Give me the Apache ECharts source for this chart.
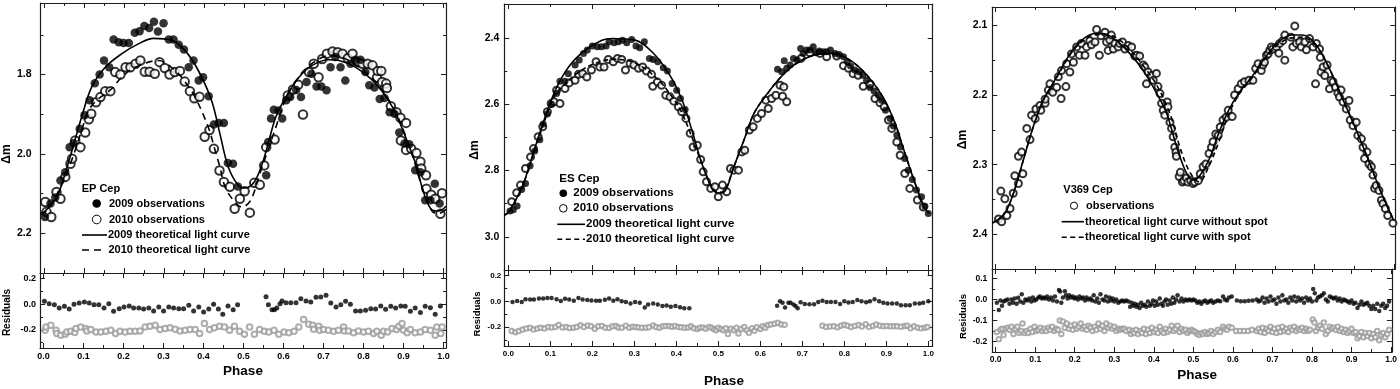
<!DOCTYPE html>
<html><head><meta charset="utf-8">
<script src="https://cdn.jsdelivr.net/npm/echarts@6/dist/echarts.min.js"></script>
<style>html,body{margin:0;padding:0;background:#fff}#c{width:1400px;height:389px}</style>
</head><body><div id="c"></div>
<script>
// ---------------- DATA (phase, value) ----------------
// EP Cep
const epObs2009 = [[0.002,2.159],[0.016,2.125],[0.028,2.110],[0.041,2.067],[0.053,2.046],[0.064,1.983],[0.074,1.973],[0.089,1.937],[0.101,1.903],[0.114,1.865],[0.127,1.822],[0.139,1.800],[0.150,1.765],[0.163,1.782],[0.174,1.712],[0.187,1.719],[0.199,1.721],[0.212,1.721],[0.227,1.695],[0.239,1.691],[0.251,1.678],[0.263,1.683],[0.275,1.667],[0.285,1.692],[0.299,1.671],[0.312,1.712],[0.324,1.712],[0.337,1.725],[0.350,1.737],[0.362,1.782],[0.374,1.765],[0.387,1.815],[0.398,1.807],[0.412,1.855],[0.425,1.926],[0.437,1.922],[0.450,1.922],[0.460,2.023],[0.473,2.025],[0.485,2.082],[0.556,2.054],[0.561,1.970],[0.568,1.911],[0.575,1.889],[0.587,1.891],[0.596,1.911],[0.606,1.865],[0.616,1.857],[0.631,1.839],[0.643,1.857],[0.657,1.819],[0.669,1.798],[0.682,1.830],[0.694,1.830],[0.707,1.840],[0.717,1.782],[0.729,1.756],[0.742,1.782],[0.754,1.815],[0.767,1.773],[0.779,1.763],[0.792,1.763],[0.804,1.794],[0.814,1.827],[0.827,1.833],[0.840,1.862],[0.852,1.859],[0.865,1.895],[0.877,1.899],[0.889,1.946],[0.902,1.974],[0.914,1.976],[0.929,2.041],[0.942,2.046],[0.954,2.117],[0.967,2.117],[0.978,2.075],[0.990,2.125]];
const epObs2010 = [[0.003,2.121],[0.006,2.146],[0.018,2.159],[0.031,2.096],[0.041,2.113],[0.053,2.058],[0.066,2.025],[0.070,2.012],[0.078,1.966],[0.091,1.983],[0.103,1.946],[0.112,1.913],[0.118,1.899],[0.130,1.870],[0.141,1.857],[0.153,1.842],[0.166,1.842],[0.178,1.794],[0.191,1.800],[0.204,1.782],[0.216,1.782],[0.229,1.773],[0.241,1.765],[0.252,1.793],[0.264,1.793],[0.277,1.798],[0.289,1.769],[0.302,1.784],[0.314,1.800],[0.327,1.794],[0.340,1.791],[0.352,1.818],[0.365,1.842],[0.376,1.860],[0.389,1.856],[0.402,1.957],[0.414,1.940],[0.425,1.987],[0.439,2.042],[0.450,2.071],[0.465,2.083],[0.477,2.138],[0.490,2.113],[0.502,2.094],[0.515,2.148],[0.526,2.073],[0.540,2.078],[0.551,2.029],[0.556,1.983],[0.577,1.964],[0.610,1.853],[0.623,1.838],[0.636,1.826],[0.648,1.901],[0.663,1.794],[0.675,1.773],[0.687,1.807],[0.696,1.761],[0.708,1.748],[0.722,1.742],[0.735,1.744],[0.747,1.748],[0.760,1.759],[0.772,1.748],[0.785,1.769],[0.797,1.773],[0.810,1.773],[0.822,1.777],[0.833,1.808],[0.835,1.791],[0.844,1.791],[0.846,1.819],[0.856,1.823],[0.858,1.834],[0.868,1.880],[0.882,1.895],[0.892,1.909],[0.893,1.966],[0.906,1.922],[0.906,1.990],[0.919,1.987],[0.932,1.998],[0.942,2.020],[0.944,2.037],[0.956,2.054],[0.957,2.088],[0.969,2.103],[0.979,2.113],[0.992,2.151],[0.996,2.099]];
const epCurve2009 = [[-0.009,2.148],[0.0,2.146],[0.02,2.125],[0.036,2.100],[0.065,2.008],[0.094,1.907],[0.119,1.832],[0.153,1.782],[0.194,1.748],[0.236,1.723],[0.274,1.709],[0.319,1.714],[0.353,1.740],[0.386,1.790],[0.419,1.865],[0.440,1.949],[0.461,2.033],[0.486,2.079],[0.503,2.086],[0.526,2.071],[0.546,2.025],[0.563,1.966],[0.580,1.907],[0.605,1.857],[0.638,1.807],[0.671,1.777],[0.713,1.763],[0.738,1.765],[0.780,1.782],[0.830,1.823],[0.872,1.882],[0.905,1.958],[0.930,2.025],[0.951,2.100],[0.972,2.142],[0.988,2.144],[1.006,2.132]];
const epCurve2010 = [[-0.009,2.152],[0.0,2.150],[0.019,2.125],[0.045,2.075],[0.069,2.016],[0.094,1.941],[0.111,1.891],[0.132,1.865],[0.169,1.836],[0.194,1.807],[0.228,1.782],[0.286,1.765],[0.328,1.790],[0.353,1.819],[0.378,1.857],[0.411,1.933],[0.428,1.991],[0.440,2.033],[0.453,2.083],[0.474,2.117],[0.495,2.134],[0.517,2.117],[0.540,2.050],[0.563,1.983],[0.580,1.933],[0.605,1.862],[0.638,1.805],[0.671,1.772],[0.713,1.753],[0.738,1.755],[0.780,1.775],[0.830,1.818],[0.872,1.880],[0.905,1.955],[0.930,2.030],[0.951,2.100],[0.972,2.145],[0.988,2.150],[1.006,2.140]];
const epRes2009 = [[0.002,0.023],[0.014,0.005],[0.027,-0.003],[0.039,-0.029],[0.052,-0.016],[0.064,-0.036],[0.076,0.0],[0.089,0.010],[0.102,0.018],[0.114,0.010],[0.126,-0.003],[0.138,-0.003],[0.151,-0.029],[0.163,0.005],[0.175,-0.055],[0.189,-0.034],[0.201,-0.021],[0.214,-0.013],[0.225,-0.029],[0.238,-0.029],[0.250,-0.036],[0.263,-0.029],[0.275,-0.052],[0.288,-0.021],[0.300,-0.052],[0.313,-0.021],[0.325,-0.029],[0.338,-0.034],[0.350,-0.034],[0.363,-0.008],[0.375,-0.052],[0.388,-0.021],[0.400,-0.060],[0.413,-0.036],[0.425,0.0],[0.437,-0.036],[0.448,-0.078],[0.461,-0.013],[0.474,-0.042],[0.485,-0.003],[0.556,0.060],[0.562,-0.003],[0.571,-0.042],[0.577,-0.042],[0.583,-0.029],[0.591,0.005],[0.596,0.026],[0.606,0.013],[0.618,0.013],[0.631,0.013],[0.643,0.044],[0.656,0.026],[0.668,0.018],[0.681,0.055],[0.693,0.057],[0.706,0.070],[0.718,0.010],[0.731,-0.021],[0.743,-0.003],[0.755,0.023],[0.767,0.0],[0.780,-0.052],[0.792,-0.052],[0.805,-0.047],[0.818,-0.034],[0.830,-0.036],[0.843,-0.013],[0.855,-0.039],[0.868,-0.016],[0.880,-0.029],[0.893,-0.013],[0.904,-0.016],[0.917,-0.055],[0.929,-0.029],[0.942,-0.065],[0.954,-0.016],[0.967,-0.026],[0.979,-0.078],[0.992,-0.013]];
const epRes2010 = [[0.004,-0.203],[0.006,-0.177],[0.018,-0.164],[0.031,-0.203],[0.033,-0.229],[0.043,-0.242],[0.054,-0.234],[0.058,-0.216],[0.068,-0.210],[0.078,-0.221],[0.081,-0.190],[0.093,-0.177],[0.105,-0.190],[0.108,-0.208],[0.118,-0.197],[0.131,-0.216],[0.143,-0.216],[0.156,-0.210],[0.168,-0.203],[0.180,-0.229],[0.191,-0.210],[0.204,-0.216],[0.216,-0.210],[0.229,-0.210],[0.241,-0.208],[0.254,-0.177],[0.266,-0.171],[0.279,-0.164],[0.291,-0.197],[0.304,-0.190],[0.316,-0.184],[0.329,-0.195],[0.341,-0.208],[0.354,-0.203],[0.366,-0.197],[0.379,-0.197],[0.390,-0.229],[0.402,-0.151],[0.415,-0.197],[0.427,-0.184],[0.440,-0.171],[0.452,-0.177],[0.465,-0.203],[0.477,-0.171],[0.490,-0.210],[0.502,-0.234],[0.515,-0.177],[0.527,-0.234],[0.540,-0.197],[0.552,-0.210],[0.563,-0.216],[0.576,-0.203],[0.588,-0.234],[0.601,-0.216],[0.613,-0.223],[0.626,-0.210],[0.638,-0.177],[0.650,-0.119],[0.663,-0.156],[0.673,-0.164],[0.675,-0.195],[0.688,-0.171],[0.690,-0.203],[0.700,-0.197],[0.712,-0.203],[0.725,-0.210],[0.737,-0.203],[0.750,-0.177],[0.752,-0.208],[0.762,-0.208],[0.775,-0.223],[0.787,-0.208],[0.800,-0.216],[0.812,-0.210],[0.825,-0.229],[0.833,-0.210],[0.844,-0.242],[0.850,-0.210],[0.860,-0.216],[0.871,-0.190],[0.882,-0.197],[0.888,-0.171],[0.896,-0.151],[0.900,-0.203],[0.909,-0.223],[0.917,-0.197],[0.929,-0.223],[0.942,-0.216],[0.954,-0.197],[0.967,-0.203],[0.979,-0.242],[0.983,-0.177],[0.993,-0.229],[0.996,-0.177]];
// ES Cep
const esObs2009 = [[0.004,2.922],[0.012,2.918],[0.021,2.907],[0.032,2.857],[0.041,2.839],[0.052,2.786],[0.063,2.741],[0.075,2.707],[0.083,2.660],[0.093,2.630],[0.103,2.600],[0.115,2.568],[0.123,2.531],[0.135,2.531],[0.143,2.508],[0.159,2.482],[0.169,2.467],[0.179,2.447],[0.188,2.437],[0.200,2.425],[0.212,2.427],[0.222,2.427],[0.233,2.425],[0.240,2.412],[0.252,2.415],[0.262,2.412],[0.272,2.407],[0.282,2.415],[0.294,2.405],[0.304,2.425],[0.313,2.430],[0.324,2.412],[0.336,2.462],[0.345,2.465],[0.356,2.472],[0.369,2.490],[0.379,2.500],[0.390,2.538],[0.401,2.558],[0.410,2.583],[0.421,2.616],[0.641,2.495],[0.651,2.502],[0.657,2.469],[0.663,2.492],[0.671,2.482],[0.679,2.462],[0.688,2.467],[0.696,2.432],[0.702,2.447],[0.710,2.437],[0.718,2.437],[0.726,2.427],[0.733,2.445],[0.740,2.440],[0.750,2.442],[0.758,2.442],[0.767,2.437],[0.778,2.447],[0.788,2.450],[0.798,2.457],[0.807,2.472],[0.815,2.485],[0.825,2.497],[0.835,2.502],[0.844,2.513],[0.853,2.528],[0.861,2.550],[0.871,2.560],[0.881,2.573],[0.889,2.588],[0.898,2.618],[0.909,2.643],[0.917,2.666],[0.925,2.693],[0.934,2.729],[0.944,2.764],[0.952,2.799],[0.962,2.827],[0.972,2.859],[0.984,2.879],[0.992,2.908],[1.000,2.930]];
const esObs2010 = [[0.008,2.894],[0.020,2.867],[0.029,2.844],[0.041,2.794],[0.053,2.759],[0.060,2.734],[0.071,2.698],[0.082,2.668],[0.093,2.623],[0.102,2.598],[0.109,2.593],[0.123,2.598],[0.115,2.558],[0.135,2.553],[0.145,2.536],[0.159,2.528],[0.167,2.510],[0.177,2.508],[0.187,2.518],[0.198,2.497],[0.209,2.472],[0.218,2.488],[0.228,2.488],[0.238,2.465],[0.250,2.472],[0.260,2.462],[0.270,2.465],[0.279,2.497],[0.290,2.477],[0.299,2.482],[0.310,2.492],[0.320,2.488],[0.329,2.500],[0.341,2.510],[0.344,2.546],[0.355,2.533],[0.365,2.543],[0.375,2.573],[0.385,2.578],[0.394,2.591],[0.405,2.608],[0.413,2.623],[0.423,2.643],[0.433,2.688],[0.440,2.729],[0.450,2.724],[0.458,2.767],[0.464,2.804],[0.472,2.834],[0.482,2.854],[0.492,2.849],[0.500,2.879],[0.510,2.844],[0.520,2.864],[0.529,2.794],[0.537,2.799],[0.548,2.799],[0.556,2.744],[0.563,2.739],[0.574,2.678],[0.583,2.668],[0.593,2.643],[0.603,2.628],[0.613,2.588],[0.619,2.613],[0.627,2.583],[0.637,2.573],[0.647,2.543],[0.653,2.576],[0.656,2.548],[0.663,2.593],[0.697,2.462],[0.718,2.445],[0.742,2.447],[0.758,2.457],[0.782,2.455],[0.798,2.484],[0.810,2.492],[0.821,2.508],[0.833,2.513],[0.845,2.546],[0.861,2.540],[0.873,2.583],[0.885,2.596],[0.895,2.608],[0.905,2.648],[0.913,2.673],[0.925,2.714],[0.933,2.754],[0.944,2.809],[0.956,2.854],[0.974,2.889],[0.988,2.910]];
const esCurve2009 = [[-0.0095,2.935],[0.001,2.925],[0.033,2.849],[0.064,2.729],[0.088,2.638],[0.112,2.558],[0.144,2.487],[0.183,2.437],[0.223,2.407],[0.247,2.402],[0.302,2.407],[0.342,2.442],[0.382,2.507],[0.414,2.588],[0.437,2.678],[0.461,2.779],[0.485,2.854],[0.500,2.868],[0.514,2.865],[0.537,2.789],[0.561,2.709],[0.585,2.628],[0.617,2.568],[0.649,2.518],[0.680,2.482],[0.728,2.452],[0.768,2.447],[0.807,2.462],[0.847,2.503],[0.887,2.568],[0.918,2.648],[0.942,2.739],[0.966,2.829],[0.990,2.910],[1.002,2.929]];
const esCurve2010 = [[-0.0095,2.935],[0.001,2.925],[0.033,2.850],[0.064,2.735],[0.088,2.645],[0.110,2.575],[0.128,2.548],[0.168,2.503],[0.207,2.477],[0.247,2.465],[0.279,2.467],[0.318,2.487],[0.358,2.528],[0.390,2.578],[0.414,2.628],[0.437,2.699],[0.461,2.779],[0.485,2.850],[0.500,2.866],[0.514,2.862],[0.537,2.789],[0.561,2.709],[0.585,2.628],[0.617,2.568],[0.649,2.518],[0.680,2.482],[0.728,2.452],[0.768,2.448],[0.807,2.463],[0.847,2.503],[0.887,2.568],[0.918,2.648],[0.942,2.739],[0.966,2.829],[0.990,2.910],[1.002,2.929]];
const esRes2009 = [[0.010,-0.005],[0.021,0.002],[0.032,-0.005],[0.041,0.017],[0.052,0.015],[0.061,0.015],[0.073,0.022],[0.083,0.022],[0.093,0.025],[0.103,0.025],[0.115,0.017],[0.125,0.002],[0.135,0.020],[0.145,0.015],[0.156,0.005],[0.167,0.025],[0.177,0.015],[0.188,0.010],[0.198,0.007],[0.209,0.005],[0.218,0.005],[0.230,0.012],[0.240,0.022],[0.250,0.005],[0.260,0.017],[0.270,0.0],[0.280,-0.005],[0.291,-0.017],[0.302,-0.005],[0.313,-0.012],[0.325,-0.049],[0.333,-0.025],[0.345,-0.017],[0.356,-0.025],[0.367,-0.037],[0.377,-0.032],[0.387,-0.042],[0.398,-0.037],[0.409,-0.047],[0.419,-0.054],[0.431,-0.054],[0.640,-0.035],[0.647,0.0],[0.653,-0.012],[0.659,-0.049],[0.667,-0.012],[0.672,-0.012],[0.679,-0.025],[0.684,-0.037],[0.689,-0.054],[0.696,-0.007],[0.706,-0.020],[0.717,-0.022],[0.728,-0.022],[0.738,-0.005],[0.748,0.005],[0.758,-0.005],[0.768,-0.005],[0.779,-0.005],[0.790,-0.020],[0.800,0.0],[0.810,-0.010],[0.820,-0.005],[0.831,0.010],[0.841,0.0],[0.852,-0.007],[0.861,0.0],[0.872,0.017],[0.883,0.0],[0.893,-0.012],[0.903,-0.017],[0.914,-0.017],[0.925,-0.017],[0.935,-0.030],[0.946,-0.030],[0.956,-0.030],[0.968,-0.017],[0.979,-0.017],[0.988,-0.012],[1.000,0.0]];
const esRes2010 = [[0.008,-0.232],[0.017,-0.240],[0.025,-0.232],[0.034,-0.220],[0.043,-0.212],[0.052,-0.206],[0.060,-0.220],[0.069,-0.212],[0.077,-0.206],[0.086,-0.212],[0.095,-0.200],[0.103,-0.203],[0.112,-0.200],[0.120,-0.185],[0.129,-0.203],[0.138,-0.200],[0.146,-0.207],[0.155,-0.205],[0.163,-0.200],[0.172,-0.187],[0.180,-0.200],[0.189,-0.188],[0.197,-0.195],[0.206,-0.213],[0.214,-0.195],[0.223,-0.192],[0.231,-0.205],[0.240,-0.207],[0.248,-0.195],[0.256,-0.193],[0.262,-0.203],[0.270,-0.205],[0.280,-0.190],[0.288,-0.205],[0.296,-0.198],[0.303,-0.200],[0.310,-0.203],[0.318,-0.205],[0.327,-0.205],[0.335,-0.202],[0.345,-0.188],[0.352,-0.200],[0.360,-0.205],[0.368,-0.195],[0.375,-0.193],[0.383,-0.192],[0.390,-0.198],[0.397,-0.192],[0.405,-0.200],[0.412,-0.202],[0.420,-0.205],[0.428,-0.203],[0.435,-0.195],[0.442,-0.210],[0.450,-0.215],[0.456,-0.205],[0.463,-0.203],[0.470,-0.213],[0.478,-0.200],[0.484,-0.205],[0.490,-0.218],[0.495,-0.225],[0.500,-0.205],[0.506,-0.215],[0.512,-0.225],[0.518,-0.210],[0.523,-0.255],[0.530,-0.213],[0.537,-0.225],[0.543,-0.205],[0.548,-0.250],[0.555,-0.215],[0.562,-0.200],[0.568,-0.225],[0.573,-0.245],[0.580,-0.210],[0.586,-0.230],[0.592,-0.202],[0.600,-0.215],[0.606,-0.195],[0.612,-0.205],[0.618,-0.185],[0.625,-0.180],[0.634,-0.175],[0.642,-0.167],[0.650,-0.180],[0.658,-0.183],[0.748,-0.190],[0.757,-0.200],[0.766,-0.197],[0.775,-0.195],[0.784,-0.202],[0.792,-0.190],[0.800,-0.183],[0.808,-0.190],[0.816,-0.200],[0.825,-0.192],[0.834,-0.185],[0.842,-0.197],[0.851,-0.178],[0.859,-0.200],[0.868,-0.192],[0.876,-0.180],[0.885,-0.190],[0.893,-0.195],[0.901,-0.192],[0.910,-0.195],[0.918,-0.195],[0.926,-0.195],[0.935,-0.198],[0.944,-0.193],[0.950,-0.190],[0.958,-0.210],[0.966,-0.195],[0.975,-0.205],[0.983,-0.210],[0.992,-0.205],[0.998,-0.200]];
// V369 Cep
const vObs = [[0.007,2.378],[0.013,2.338],[0.015,2.382],[0.023,2.349],[0.028,2.373],[0.036,2.363],[0.044,2.341],[0.048,2.316],[0.057,2.327],[0.057,2.288],[0.068,2.313],[0.065,2.282],[0.078,2.248],[0.086,2.264],[0.090,2.229],[0.099,2.234],[0.101,2.220],[0.111,2.215],[0.113,2.222],[0.124,2.212],[0.124,2.206],[0.132,2.193],[0.136,2.184],[0.143,2.196],[0.153,2.189],[0.157,2.174],[0.164,2.205],[0.165,2.165],[0.176,2.188],[0.178,2.155],[0.186,2.167],[0.190,2.141],[0.195,2.153],[0.203,2.131],[0.210,2.143],[0.215,2.126],[0.224,2.143],[0.228,2.131],[0.236,2.122],[0.240,2.128],[0.249,2.124],[0.253,2.106],[0.260,2.143],[0.264,2.115],[0.274,2.110],[0.278,2.124],[0.282,2.136],[0.286,2.121],[0.290,2.114],[0.295,2.134],[0.299,2.126],[0.307,2.131],[0.311,2.126],[0.318,2.124],[0.324,2.134],[0.332,2.129],[0.341,2.131],[0.349,2.144],[0.353,2.143],[0.361,2.144],[0.370,2.157],[0.374,2.160],[0.378,2.184],[0.382,2.167],[0.391,2.172],[0.395,2.179],[0.403,2.169],[0.407,2.188],[0.412,2.198],[0.416,2.212],[0.420,2.222],[0.424,2.229],[0.430,2.210],[0.432,2.217],[0.437,2.239],[0.441,2.248],[0.445,2.260],[0.449,2.275],[0.452,2.282],[0.453,2.288],[0.460,2.317],[0.463,2.311],[0.468,2.325],[0.472,2.323],[0.478,2.319],[0.482,2.325],[0.489,2.323],[0.495,2.327],[0.499,2.325],[0.508,2.323],[0.513,2.313],[0.520,2.303],[0.527,2.299],[0.535,2.284],[0.541,2.275],[0.545,2.267],[0.552,2.256],[0.558,2.258],[0.563,2.246],[0.570,2.236],[0.578,2.232],[0.583,2.222],[0.593,2.231],[0.599,2.200],[0.608,2.191],[0.616,2.184],[0.624,2.181],[0.635,2.179],[0.645,2.179],[0.652,2.162],[0.658,2.155],[0.666,2.165],[0.670,2.157],[0.674,2.153],[0.679,2.143],[0.683,2.141],[0.687,2.136],[0.691,2.131],[0.695,2.134],[0.704,2.131],[0.710,2.140],[0.712,2.126],[0.720,2.122],[0.725,2.150],[0.725,2.114],[0.740,2.117],[0.745,2.131],[0.750,2.101],[0.754,2.126],[0.762,2.124],[0.766,2.131],[0.775,2.124],[0.779,2.135],[0.787,2.119],[0.796,2.131],[0.802,2.184],[0.804,2.126],[0.812,2.134],[0.814,2.146],[0.816,2.167],[0.821,2.160],[0.825,2.172],[0.831,2.157],[0.837,2.191],[0.841,2.179],[0.846,2.181],[0.852,2.189],[0.858,2.197],[0.862,2.203],[0.866,2.193],[0.871,2.210],[0.879,2.220],[0.886,2.208],[0.889,2.236],[0.896,2.244],[0.904,2.239],[0.908,2.258],[0.917,2.263],[0.921,2.275],[0.925,2.291],[0.931,2.282],[0.936,2.299],[0.942,2.303],[0.946,2.315],[0.950,2.334],[0.954,2.330],[0.961,2.337],[0.967,2.351],[0.971,2.356],[0.977,2.363],[0.983,2.373],[0.996,2.384]];
const vCurveNoSpot = [[-0.0085,2.384],[0.0025,2.380],[0.023,2.370],[0.044,2.342],[0.069,2.294],[0.094,2.246],[0.119,2.208],[0.153,2.174],[0.186,2.141],[0.211,2.124],[0.245,2.112],[0.270,2.112],[0.303,2.122],[0.337,2.141],[0.370,2.165],[0.404,2.198],[0.429,2.227],[0.454,2.275],[0.479,2.313],[0.495,2.322],[0.509,2.318],[0.534,2.294],[0.559,2.255],[0.584,2.222],[0.609,2.198],[0.642,2.174],[0.676,2.146],[0.709,2.124],[0.743,2.114],[0.768,2.114],[0.801,2.126],[0.835,2.160],[0.868,2.203],[0.901,2.246],[0.935,2.294],[0.968,2.342],[0.998,2.380]];
const vCurveSpot = [[-0.0085,2.384],[0.0025,2.380],[0.023,2.370],[0.044,2.342],[0.069,2.294],[0.094,2.246],[0.119,2.208],[0.153,2.175],[0.186,2.143],[0.211,2.126],[0.245,2.114],[0.275,2.113],[0.303,2.118],[0.337,2.135],[0.370,2.158],[0.404,2.186],[0.437,2.227],[0.462,2.275],[0.486,2.310],[0.510,2.325],[0.534,2.303],[0.559,2.268],[0.584,2.228],[0.609,2.200],[0.642,2.176],[0.676,2.148],[0.709,2.127],[0.743,2.118],[0.768,2.117],[0.801,2.128],[0.835,2.160],[0.868,2.203],[0.901,2.246],[0.935,2.294],[0.968,2.342],[0.998,2.380]];
const vResNoSpot = [[0.003,-0.015],[0.008,-0.05],[0.012,-0.005],[0.016,-0.03],[0.020,-0.01],[0.025,-0.005],[0.030,0.0],[0.035,-0.02],[0.040,0.0],[0.044,-0.015],[0.048,0.005],[0.053,-0.02],[0.057,0.008],[0.062,-0.01],[0.066,0.025],[0.070,-0.015],[0.075,0.0],[0.080,-0.005],[0.085,0.005],[0.090,-0.01],[0.094,0.010],[0.098,-0.005],[0.103,0.0],[0.108,0.010],[0.112,0.015],[0.117,0.005],[0.121,0.010],[0.126,0.005],[0.130,0.015],[0.135,0.0],[0.140,0.010],[0.145,-0.005],[0.150,0.015],[0.155,-0.010],[0.160,0.045],[0.163,0.038],[0.166,-0.015],[0.170,0.010],[0.175,0.040],[0.178,0.020],[0.182,0.005],[0.186,0.020],[0.190,0.010],[0.195,0.015],[0.199,0.005],[0.203,0.010],[0.208,0.0],[0.212,0.015],[0.217,0.005],[0.221,0.010],[0.226,-0.005],[0.230,0.010],[0.235,0.0],[0.240,0.005],[0.244,-0.005],[0.248,0.020],[0.252,-0.010],[0.257,0.005],[0.261,-0.015],[0.265,0.025],[0.270,0.0],[0.275,-0.005],[0.279,0.015],[0.284,-0.010],[0.288,0.010],[0.292,-0.005],[0.296,0.005],[0.300,-0.010],[0.305,0.0],[0.310,-0.015],[0.315,-0.010],[0.320,-0.005],[0.325,-0.010],[0.330,-0.005],[0.336,-0.010],[0.340,-0.035],[0.344,-0.015],[0.348,-0.030],[0.352,-0.020],[0.356,-0.035],[0.360,-0.025],[0.364,-0.040],[0.368,-0.015],[0.372,-0.030],[0.377,-0.025],[0.381,-0.035],[0.385,-0.010],[0.390,-0.030],[0.394,-0.020],[0.398,-0.005],[0.402,-0.030],[0.406,-0.010],[0.410,-0.025],[0.415,0.005],[0.419,-0.020],[0.423,-0.030],[0.427,-0.010],[0.431,0.0],[0.435,-0.025],[0.440,-0.005],[0.444,-0.020],[0.448,0.010],[0.452,-0.015],[0.456,0.0],[0.460,0.020],[0.465,-0.010],[0.470,0.005],[0.475,-0.010],[0.480,0.0],[0.485,-0.005],[0.490,0.0],[0.495,-0.005],[0.500,0.0],[0.505,-0.005],[0.510,-0.015],[0.515,-0.010],[0.520,-0.020],[0.525,-0.010],[0.530,-0.005],[0.535,-0.015],[0.540,-0.010],[0.545,-0.005],[0.550,-0.015],[0.556,-0.010],[0.562,-0.005],[0.568,-0.008],[0.575,0.015],[0.580,0.0],[0.585,-0.005],[0.590,0.010],[0.597,0.015],[0.610,-0.005],[0.620,-0.008],[0.630,-0.008],[0.640,-0.006],[0.650,-0.005],[0.660,0.0],[0.665,-0.010],[0.670,-0.005],[0.675,0.010],[0.680,-0.015],[0.685,0.005],[0.690,-0.010],[0.695,0.015],[0.700,-0.005],[0.705,0.0],[0.710,-0.020],[0.715,0.010],[0.720,-0.010],[0.725,0.020],[0.730,-0.005],[0.735,0.0],[0.740,-0.015],[0.745,0.010],[0.750,-0.005],[0.755,0.015],[0.760,-0.010],[0.765,0.010],[0.770,-0.005],[0.775,0.005],[0.780,-0.015],[0.785,0.010],[0.790,-0.005],[0.795,0.005],[0.800,-0.010],[0.803,0.050],[0.807,0.030],[0.811,-0.005],[0.815,0.010],[0.820,0.015],[0.825,0.020],[0.830,0.030],[0.835,0.0],[0.840,-0.010],[0.845,0.015],[0.850,0.010],[0.855,0.005],[0.860,0.010],[0.865,-0.005],[0.870,0.005],[0.875,-0.010],[0.880,0.0],[0.885,-0.005],[0.890,-0.010],[0.895,-0.015],[0.900,-0.005],[0.905,-0.020],[0.910,-0.015],[0.915,-0.040],[0.920,-0.025],[0.925,-0.010],[0.930,-0.025],[0.935,-0.020],[0.940,-0.015],[0.945,-0.030],[0.950,-0.045],[0.955,-0.030],[0.960,-0.045],[0.965,-0.020],[0.970,-0.055],[0.975,-0.030],[0.980,-0.020],[0.985,-0.040],[0.990,-0.030],[0.995,-0.010]];
const vResSpot = [[0.003,-0.155],[0.008,-0.190],[0.012,-0.145],[0.017,-0.140],[0.020,-0.170],[0.025,-0.140],[0.030,-0.135],[0.035,-0.145],[0.040,-0.130],[0.045,-0.165],[0.050,-0.140],[0.055,-0.130],[0.060,-0.160],[0.065,-0.150],[0.068,-0.115],[0.073,-0.160],[0.078,-0.150],[0.083,-0.160],[0.088,-0.140],[0.093,-0.155],[0.098,-0.130],[0.103,-0.150],[0.108,-0.145],[0.113,-0.135],[0.118,-0.150],[0.123,-0.140],[0.128,-0.150],[0.133,-0.135],[0.138,-0.145],[0.143,-0.130],[0.148,-0.150],[0.153,-0.140],[0.158,-0.145],[0.162,-0.100],[0.166,-0.165],[0.170,-0.105],[0.175,-0.135],[0.180,-0.115],[0.185,-0.140],[0.190,-0.125],[0.195,-0.145],[0.200,-0.120],[0.205,-0.140],[0.210,-0.130],[0.215,-0.115],[0.220,-0.140],[0.225,-0.130],[0.230,-0.145],[0.235,-0.125],[0.240,-0.135],[0.245,-0.150],[0.250,-0.130],[0.255,-0.145],[0.260,-0.115],[0.265,-0.140],[0.270,-0.125],[0.275,-0.150],[0.280,-0.115],[0.285,-0.135],[0.290,-0.125],[0.295,-0.140],[0.300,-0.130],[0.305,-0.150],[0.310,-0.140],[0.315,-0.145],[0.320,-0.140],[0.325,-0.140],[0.330,-0.150],[0.338,-0.145],[0.342,-0.165],[0.346,-0.150],[0.350,-0.160],[0.355,-0.145],[0.360,-0.165],[0.365,-0.150],[0.370,-0.160],[0.375,-0.140],[0.380,-0.165],[0.385,-0.145],[0.390,-0.160],[0.395,-0.135],[0.400,-0.155],[0.405,-0.145],[0.410,-0.160],[0.415,-0.130],[0.420,-0.150],[0.425,-0.160],[0.430,-0.140],[0.435,-0.155],[0.440,-0.145],[0.445,-0.125],[0.450,-0.150],[0.455,-0.140],[0.460,-0.125],[0.465,-0.155],[0.470,-0.140],[0.475,-0.150],[0.480,-0.145],[0.485,-0.160],[0.490,-0.150],[0.495,-0.145],[0.500,-0.150],[0.505,-0.155],[0.510,-0.165],[0.515,-0.170],[0.520,-0.160],[0.525,-0.165],[0.530,-0.155],[0.535,-0.165],[0.540,-0.160],[0.545,-0.150],[0.550,-0.165],[0.556,-0.155],[0.562,-0.145],[0.568,-0.155],[0.575,-0.130],[0.580,-0.140],[0.585,-0.145],[0.590,-0.130],[0.597,-0.135],[0.608,-0.150],[0.618,-0.150],[0.628,-0.150],[0.638,-0.150],[0.648,-0.145],[0.660,-0.150],[0.665,-0.140],[0.670,-0.155],[0.675,-0.135],[0.680,-0.160],[0.685,-0.140],[0.690,-0.150],[0.695,-0.130],[0.700,-0.155],[0.705,-0.140],[0.710,-0.160],[0.715,-0.135],[0.720,-0.155],[0.725,-0.130],[0.730,-0.150],[0.735,-0.140],[0.740,-0.155],[0.745,-0.135],[0.750,-0.145],[0.755,-0.130],[0.760,-0.150],[0.765,-0.140],[0.770,-0.145],[0.775,-0.135],[0.780,-0.150],[0.785,-0.140],[0.790,-0.150],[0.795,-0.145],[0.802,-0.095],[0.806,-0.110],[0.810,-0.150],[0.815,-0.135],[0.820,-0.125],[0.825,-0.140],[0.830,-0.110],[0.835,-0.165],[0.840,-0.150],[0.845,-0.130],[0.850,-0.140],[0.855,-0.135],[0.860,-0.145],[0.865,-0.130],[0.870,-0.150],[0.875,-0.140],[0.880,-0.155],[0.885,-0.145],[0.890,-0.160],[0.895,-0.150],[0.900,-0.140],[0.905,-0.160],[0.910,-0.155],[0.915,-0.185],[0.920,-0.175],[0.925,-0.155],[0.930,-0.180],[0.935,-0.160],[0.940,-0.175],[0.945,-0.160],[0.950,-0.185],[0.955,-0.165],[0.960,-0.180],[0.965,-0.150],[0.970,-0.195],[0.975,-0.170],[0.980,-0.160],[0.985,-0.180],[0.990,-0.165],[0.995,-0.145]];

// ---------------- TICKS ----------------
const phaseLabels = [0.0,0.1,0.2,0.3,0.4,0.5,0.6,0.7,0.8,0.9,1.0];
const phaseMinor05 = [0.05,0.15,0.25,0.35,0.45,0.55,0.65,0.75,0.85,0.95];
const phaseMajor02 = [0.0,0.2,0.4,0.6,0.8,1.0];
const phaseMinor02 = [0.1,0.3,0.5,0.7,0.9];
const epMagTicks = [1.8,2.0,2.2];
const epMagMinor = [1.7,1.9,2.1,2.3];
const esMagTicks = [2.4,2.6,2.8,3.0];
const esMagMinor = [2.3,2.5,2.7,2.9,3.1];
const vMagTicks = [2.1,2.2,2.3,2.4];
const vMagMinor = [2.15,2.25,2.35,2.45];
const res02Ticks = [-0.2,0.0,0.2];
const res02Minor = [-0.3,-0.1,0.1];
const res01Ticks = [-0.2,-0.1,0.0,0.1];
const res01Minor = [-0.15,-0.05,0.05];

// ---------------- BUILD ----------------
const FONT = '"Liberation Sans", Arial, sans-serif';
const LC = '#1e1e1e';
const RES_GRAY = '#9a9a9a';
const opt = {animation:false, backgroundColor:'#fff', grid:[], xAxis:[], yAxis:[], series:[], graphic:[]};

function mkAxis(g, min, max, pos, ticks, len, line, label, extra) {
  const a = {type:'value', gridIndex:g, min:min, max:max, position:pos,
    axisLine:{show:line, onZero:false, lineStyle:{color:LC, width:1.2}},
    axisTick:{show:true, inside:true, length:len, customValues:ticks, lineStyle:{color:LC, width:1}},
    axisLabel: label ? Object.assign({show:true, customValues:ticks, color:'#000', fontWeight:'bold', fontFamily:FONT,
        formatter:(v)=> (Math.abs(v)<1e-9?0:v).toFixed(1)}, label) : {show:false},
    splitLine:{show:false}, minorTick:{show:false}};
  return Object.assign(a, extra||{});
}
function frame(rect, xr, yr, s) {
  const g = opt.grid.length;
  opt.grid.push(Object.assign({containLabel:false}, rect));
  const xi = opt.xAxis.length, yi = opt.yAxis.length;
  opt.xAxis.push(mkAxis(g, xr[0], xr[1], 'bottom', s.xMaj, 5, true, s.xLabel, s.xName));
  opt.xAxis.push(mkAxis(g, xr[0], xr[1], 'bottom', s.xMin, 3, false, null));
  opt.xAxis.push(mkAxis(g, xr[0], xr[1], 'top', s.xMaj, 5, true, null));
  opt.xAxis.push(mkAxis(g, xr[0], xr[1], 'top', s.xMin, 3, false, null));
  const inv = {inverse: !!s.inv};
  opt.yAxis.push(mkAxis(g, yr[0], yr[1], 'left', s.yMaj, 5, true, s.yLabel, Object.assign({}, inv, s.yName)));
  opt.yAxis.push(mkAxis(g, yr[0], yr[1], 'left', s.yMin, 3, false, null, inv));
  opt.yAxis.push(mkAxis(g, yr[0], yr[1], 'right', s.yMaj, 5, true, null, inv));
  opt.yAxis.push(mkAxis(g, yr[0], yr[1], 'right', s.yMin, 3, false, null, inv));
  return {xi, yi};
}
function yName(name, gap, size, pad) {
  return {name:name, nameLocation:'middle', nameGap:gap, nameRotate:90,
    nameTextStyle:{fontSize:size, fontWeight:'bold', fontFamily:FONT, color:'#000', padding:pad||0}};
}
function xName(gap, size, pad) {
  return {name:'Phase', nameLocation:'middle', nameGap:gap,
    nameTextStyle:{fontSize:size, fontWeight:'bold', fontFamily:FONT, color:'#000', padding:pad||0}};
}
function scatter(ax, data, filled, size, color, bw) {
  opt.series.push({type:'scatter', xAxisIndex:ax.xi, yAxisIndex:ax.yi, data:data,
    symbol: filled ? 'circle' : 'emptyCircle', symbolSize:size,
    itemStyle: filled ? {color:color} : {color:color, borderColor:color, borderWidth:bw||1},
    z:2, silent:true});
}
function curve(ax, data, dash, w) {
  opt.series.push({type:'line', xAxisIndex:ax.xi, yAxisIndex:ax.yi, data:data, showSymbol:false,
    smooth:0.35, lineStyle:{color:'#000', width:w, type: dash || 'solid'}, z:3, silent:true});
}
function legend(items, title, fs) {
  const font = 'bold ' + fs + 'px ' + FONT;
  opt.graphic.push({type:'text', x:title[1], y:title[2], style:{text:title[0], font:font, fill:'#000', verticalAlign:'middle'}});
  items.forEach(it => {
    if (it.k === 'fill') opt.graphic.push({type:'circle', shape:{cx:it.cx, cy:it.y, r:it.r}, style:{fill:'#000'}});
    if (it.k === 'open') opt.graphic.push({type:'circle', shape:{cx:it.cx, cy:it.y, r:it.r}, style:{fill:'#fff', stroke:'#000', lineWidth:1}});
    if (it.k === 'line') opt.graphic.push({type:'line', shape:{x1:it.x1, y1:it.y, x2:it.x2, y2:it.y}, style:{stroke:'#000', lineWidth:1.6, lineDash: it.dash || null}});
    opt.graphic.push({type:'text', x:it.tx, y:it.y, style:{text:it.t, font:font, fill:'#000', verticalAlign:'middle'}});
  });
}

// Panel 1 : EP Cep
const p1m = frame({left:40, top:3, width:406, height:270}, [-0.009,1.006], [1.62,2.30],
  {xMaj:phaseLabels, xMin:phaseMinor05, yMaj:epMagTicks, yMin:epMagMinor, inv:true,
   yLabel:{margin:9, fontSize:10.5}, yName:yName('\u0394m', 27, 12, [0,32,0,0])});
const p1r = frame({left:40, top:273, width:406, height:75}, [-0.009,1.006], [-0.342,0.245],
  {xMaj:phaseLabels, xMin:phaseMinor05, yMaj:res02Ticks, yMin:res02Minor,
   xLabel:{margin:4, fontSize:9}, xName:xName(16, 13.5),
   yLabel:{margin:4, fontSize:9}, yName:yName('Residuals', 28, 10, [0,4,0,0])});
scatter(p1m, epObs2010, false, 8.5, '#000');
scatter(p1m, epObs2009, true, 8.5, '#000');
curve(p1m, epCurve2009, null, 1.6);
curve(p1m, epCurve2010, [7,5], 1.6);
scatter(p1r, epRes2010, false, 5.5, RES_GRAY, 0.9);
scatter(p1r, epRes2009, true, 5, '#000');
legend([
  {k:'fill', cx:96.7, r:4.3, y:203.5, tx:109, t:'2009 observations'},
  {k:'open', cx:96.7, r:4.3, y:219.5, tx:109, t:'2010 observations'},
  {k:'line', x1:82, x2:107, y:235, tx:108, t:'2009 theoretical light curve'},
  {k:'line', x1:82, x2:105, y:250, dash:[7,5], tx:108.5, t:'2010 theoretical light curve'}
], ['EP Cep', 81.7, 189], 11);

// Panel 2 : ES Cep
const p2m = frame({left:504.3, top:4, width:428.4, height:266}, [-0.0095,1.0105], [2.298,3.100],
  {xMaj:phaseMajor02, xMin:phaseMinor02, yMaj:esMagTicks, yMin:esMagMinor, inv:true,
   yLabel:{margin:5, fontSize:10.5}, yName:yName('\u0394m', 7, 12, [0,26,0,0])});
const p2r = frame({left:504.3, top:270, width:428.4, height:80}, [-0.0095,1.0105], [-0.348,0.244],
  {xMaj:phaseLabels, xMin:phaseMinor05, yMaj:res02Ticks, yMin:res02Minor,
   xLabel:{margin:4, fontSize:8}, xName:xName(28, 13.5, [0,0,0,11]),
   yLabel:{margin:3, fontSize:8}, yName:yName('Residuals', 22, 9.5, [0,12,0,0])});
scatter(p2m, esObs2010, false, 7, '#000');
scatter(p2m, esObs2009, true, 7, '#000');
curve(p2m, esCurve2009, null, 1.6);
curve(p2m, esCurve2010, [5,3], 1.6);
scatter(p2r, esRes2010, false, 4.5, RES_GRAY, 0.9);
scatter(p2r, esRes2009, true, 4.5, '#000');
legend([
  {k:'fill', cx:563.3, r:3.8, y:193.3, tx:573.3, t:'2009 observations'},
  {k:'open', cx:563.3, r:3.8, y:208.3, tx:573.3, t:'2010 observations'},
  {k:'line', x1:557.3, x2:585, y:224.3, tx:586, t:'2009 theoretical light curve'},
  {k:'line', x1:557.3, x2:585, y:239.3, dash:[5,3.5], tx:586, t:'2010 theoretical light curve'}
], ['ES Cep', 559.3, 179], 11.5);

// Panel 3 : V369 Cep
const p3m = frame({left:992.3, top:7, width:403, height:262}, [-0.0085,1.002], [2.0737,2.4498],
  {xMaj:phaseMajor02, xMin:phaseMinor02, yMaj:vMagTicks, yMin:vMagMinor, inv:true,
   yLabel:{margin:5, fontSize:10.5}, yName:yName('\u0394m', 24, 12, [0,3,0,0])});
const p3r = frame({left:992.3, top:269, width:403, height:83}, [-0.0085,1.002], [-0.251,0.146],
  {xMaj:phaseLabels, xMin:phaseMinor05, yMaj:res01Ticks, yMin:res01Minor,
   xLabel:{margin:3, fontSize:8.5}, xName:xName(16, 13.5, [0,0,0,10]),
   yLabel:{margin:5, fontSize:8.5}, yName:yName('Residuals', 21, 9.5, [0,12,0,0])});
scatter(p3m, vObs, false, 7, '#000');
curve(p3m, vCurveNoSpot, null, 1.6);
curve(p3m, vCurveSpot, [5,3.5], 1.6);
scatter(p3r, vResSpot, false, 4.5, RES_GRAY, 0.9);
scatter(p3r, vResNoSpot, true, 4.5, '#000');
legend([
  {k:'open', cx:1074, r:3.6, y:205.7, tx:1086, t:'observations'},
  {k:'line', x1:1061.7, x2:1084, y:221.7, tx:1085, t:'theoretical light curve without spot'},
  {k:'line', x1:1061.7, x2:1084, y:237.3, dash:[5,3.5], tx:1085, t:'theoretical light curve with spot'}
], ['V369 Cep', 1063.3, 190], 11);

const chart = echarts.init(document.getElementById('c'), null, {renderer:'canvas'});
chart.setOption(opt);
</script>
</body></html>
